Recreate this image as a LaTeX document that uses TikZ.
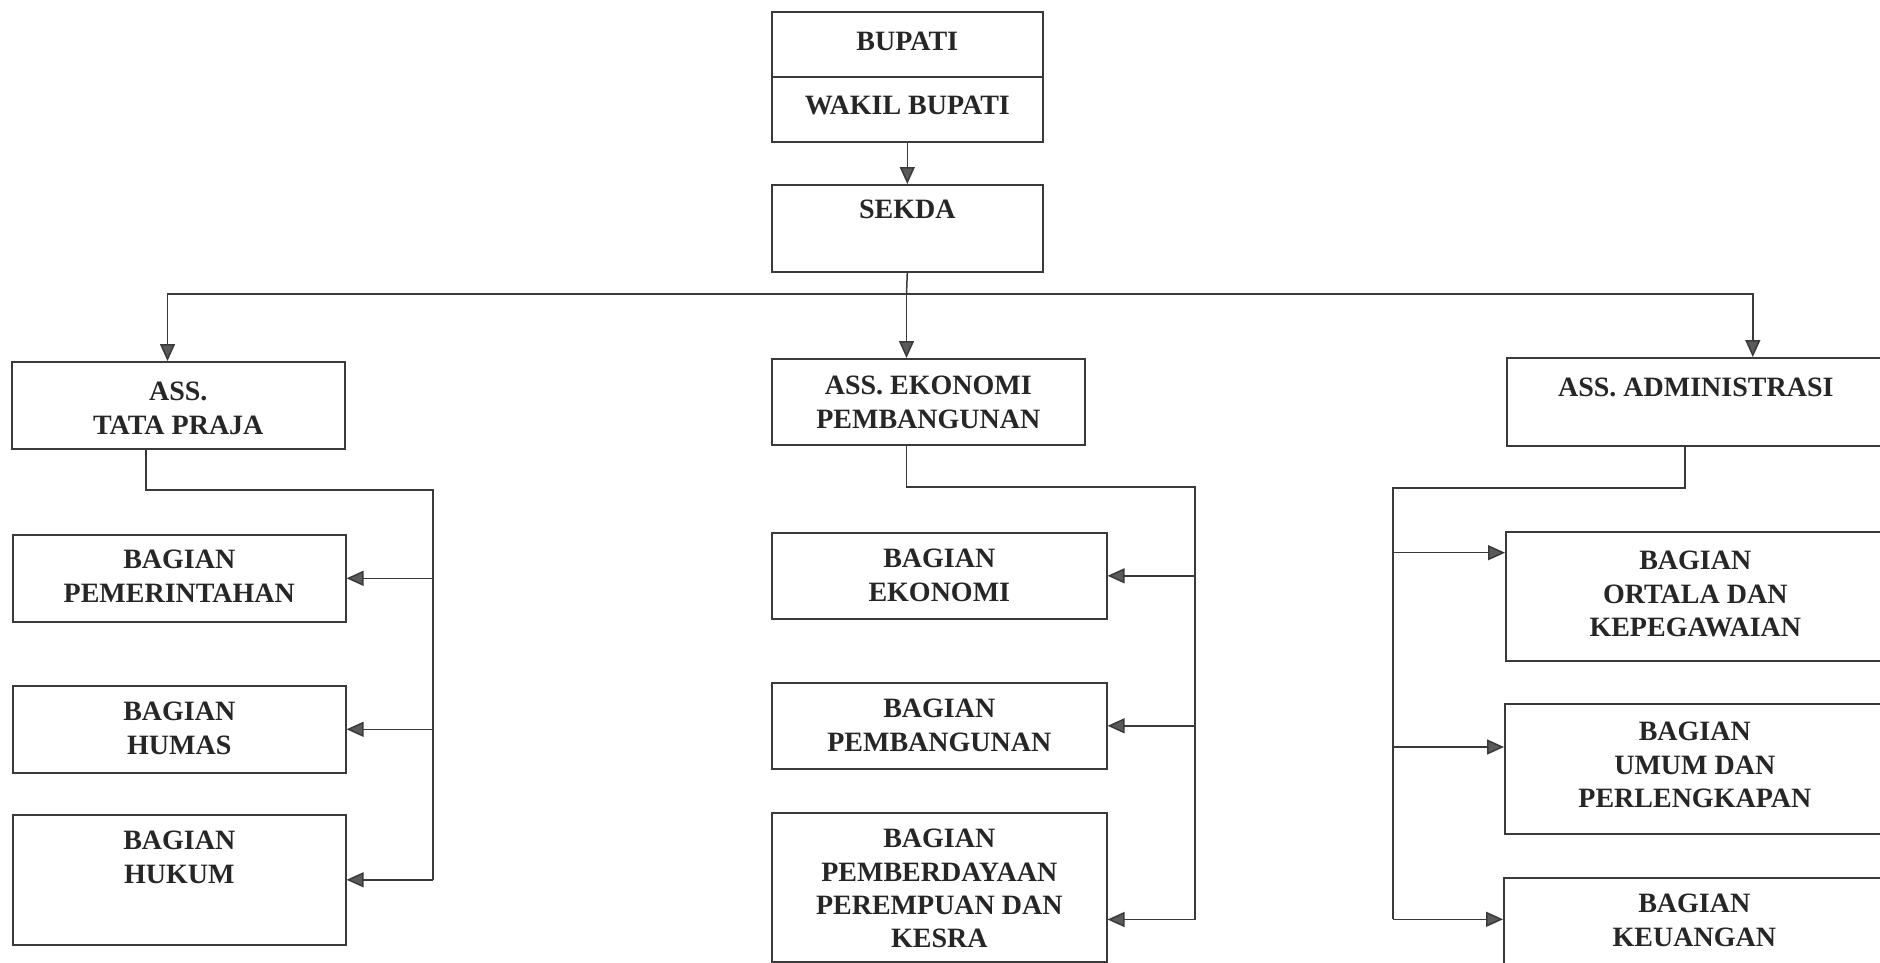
\documentclass[tikz,border=0pt]{standalone}
\usepackage{fontspec}
\setmainfont{Liberation Serif}
\usetikzlibrary{arrows.meta,calc}
\definecolor{ink}{HTML}{3A3A3A}
\definecolor{txt}{HTML}{262626}
\definecolor{tipfill}{HTML}{5A5A5A}
\tikzset{
 box/.style={draw=ink, line width=1.6pt, inner sep=0pt},
 lbl/.style={inner sep=0pt, align=center, text=txt, font=\fontsize{28}{33.3}\selectfont\bfseries},
 conn/.style={draw=ink, line width=1.5pt},
 arr/.style={conn, -{Triangle[length=17pt,width=15pt,fill=tipfill]}},
}
\newcommand\obox[7]{%
 \node[box, anchor=north west, minimum width={#4pt-#2pt}, minimum height={#5pt-#3pt}] (#1) at (#2,#3) {};
 \node[lbl, anchor=north] (#1t) at ([yshift=-#6pt]#1.north) {#7};
}
\begin{document}
\begin{tikzpicture}[x=1pt,y=-1pt]
\fill[white] (0,0) rectangle (1880,962);
\useasboundingbox (0,0) rectangle (1880,962);
\clip (0,0) rectangle (1880,962);
\obox{bupati}{771}{11}{1042}{76}{21}{BUPATI}
\obox{wakil}{771}{76}{1042}{141}{20}{WAKIL BUPATI}
\obox{sekda}{771}{184}{1042}{271}{16}{SEKDA}
\obox{tata}{11}{361}{344}{448}{21}{ASS.\\TATA PRAJA}
\obox{ekon}{771}{358}{1084}{444}{18}{ASS. EKONOMI\\PEMBANGUNAN}
\obox{adm}{1506}{357}{1884}{445}{21}{ASS. ADMINISTRASI}
\obox{pem}{12}{534}{345}{621}{16}{BAGIAN\\PEMERINTAHAN}
\obox{humas}{12}{685}{345}{772}{17}{BAGIAN\\HUMAS}
\obox{hukum}{12}{814}{345}{944}{17}{BAGIAN\\HUKUM}
\obox{bek}{771}{532}{1106}{618}{17}{BAGIAN\\EKONOMI}
\obox{bpb}{771}{682}{1106}{768}{17}{BAGIAN\\PEMBANGUNAN}
\obox{bppk}{771}{812}{1106}{961}{17}{BAGIAN\\PEMBERDAYAAN\\PEREMPUAN DAN\\KESRA}
\obox{ortala}{1505}{531}{1884}{660}{20}{BAGIAN\\ORTALA DAN\\KEPEGAWAIAN}
\obox{umum}{1504}{703}{1884}{833}{19}{BAGIAN\\UMUM DAN\\PERLENGKAPAN}
\obox{keu}{1503}{877}{1884}{975}{17}{BAGIAN\\KEUANGAN}
% top level
\coordinate (j) at (906.5,294);
\draw[arr] (wakil.south) -- (sekda.north);
\draw[conn] (sekda.south) -- (j);
\draw[arr] (j) -| ([xshift=-10.8pt]tata.north);
\draw[arr] (j) -- (j |- ekon.north);
\draw[arr] (j) -| ([xshift=57pt]adm.north);
% left group
\coordinate (lb) at (433,490);
\draw[conn] ([xshift=-32.5pt]tata.south) |- (lb) -- (lb |- hukum.east);
\draw[arr] (lb |- pem.east) -- (pem.east);
\draw[arr] (lb |- humas.east) -- (humas.east);
\draw[arr] (lb |- hukum.east) -- (hukum.east);
% middle group
\coordinate (mb) at (1195,487);
\coordinate (m3) at ([yshift=-107.5pt]bppk.north east);
\draw[conn] (j |- ekon.south) |- (mb) -- (mb |- m3);
\draw[arr] (mb |- bek.east) -- (bek.east);
\draw[arr] (mb |- bpb.east) -- (bpb.east);
\draw[arr] (mb |- m3) -- (m3);
% right group
\coordinate (rb) at (1393,488);
\coordinate (r1) at ([yshift=-21.7pt]ortala.north west);
\coordinate (r2) at ([yshift=-44pt]umum.north west);
\coordinate (r3) at ([yshift=-42.3pt]keu.north west);
\draw[conn] ([xshift=-11pt]adm.south) |- (rb) -- (rb |- r3);
\draw[arr] (rb |- r1) -- (r1);
\draw[arr] (rb |- r2) -- (r2);
\draw[arr] (rb |- r3) -- (r3);
\end{tikzpicture}
\end{document}
